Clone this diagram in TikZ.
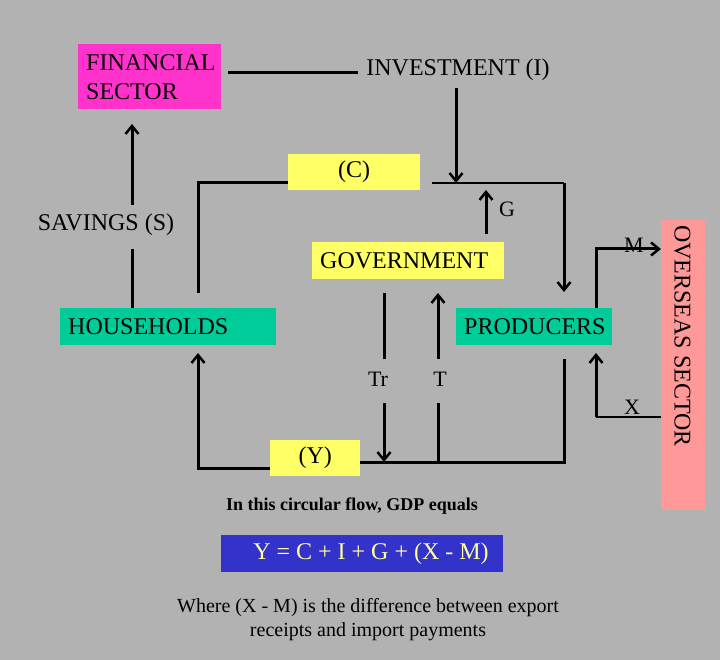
\documentclass[tikz,border=0pt]{standalone}
\usepackage{fontspec}
\setmainfont{Liberation Serif}
\usetikzlibrary{arrows.meta}
\definecolor{bggray}{RGB}{178,178,178}
\definecolor{finpink}{RGB}{255,51,204}
\definecolor{boxyellow}{RGB}{255,255,102}
\definecolor{boxgreen}{RGB}{0,204,153}
\definecolor{ospink}{RGB}{255,153,153}
\definecolor{eqblue}{RGB}{51,51,204}
\definecolor{eqtext}{RGB}{255,255,153}

\tikzset{
  sectorbox/.style={inner xsep=8pt, inner ysep=0pt, anchor=north west, align=left,
    font=\fontsize{24}{29}\selectfont},
  flowlabel/.style={inner sep=0pt, font=\fontsize{24}{28}\selectfont},
  smalllabel/.style={inner sep=0pt, font=\fontsize{22}{26}\selectfont},
  thickflow/.style={line width=3pt},
  thinflow/.style={line width=1.8pt},
  flowarrow/.style={line width=3pt, -{Straight Barb[length=8pt,width=13pt,line width=2.5pt]}}
}

\begin{document}
\begin{tikzpicture}[x=1pt,y=-1pt]
		% Fondo
		\fill[bggray] (0,0) rectangle (720,660);
		\useasboundingbox (0,0) rectangle (720,660);
		
		% Sectores
		\node[sectorbox, fill=finpink, minimum width=143pt, minimum height=65pt, text width=127pt] (fin) at (78,44) {FINANCIAL\\SECTOR};
		\node[sectorbox, fill=boxyellow, minimum width=192pt, minimum height=37pt, text width=176pt] (gov) at (312,242) {GOVERNMENT};
		\node[sectorbox, fill=boxgreen, minimum width=216pt, minimum height=37pt, text width=200pt] (hh) at (60,308) {HOUSEHOLDS};
		\node[sectorbox, fill=boxgreen, minimum width=156pt, minimum height=37pt, text width=140pt] (prod) at (456,308) {PRODUCERS};
		\node[sectorbox, fill=boxyellow, minimum width=132pt, minimum height=36pt, align=center, text width=116pt] (cons) at (288,154) {(C)};
		\node[sectorbox, fill=boxyellow, minimum width=90pt, minimum height=36pt, align=center, text width=74pt] (inc) at (270,440) {(Y)};
		\fill[ospink] (661,220) rectangle (705,510);
		\node[flowlabel, rotate=-90, anchor=south west] (os) at (674,225) {OVERSEAS SECTOR};
		
		% Etiquetas
		\node[flowlabel] (inv) at (458,70) {INVESTMENT (I)};
		\node[flowlabel] (sav) at (106,225) {SAVINGS (S)};
		\node[smalllabel] (glab) at (507,209) {G};
		\node[smalllabel] (mlab) at (634,245) {M};
		\node[smalllabel] (xlab) at (632,407) {X};
		\node[smalllabel] (trlab) at (378,379) {Tr};
		\node[smalllabel] (tlab) at (440,379) {T};
		
		% Puntos de los flujos
		\coordinate (finR) at (228,73);
		\coordinate (invL) at (358,73);
		\coordinate (invDown) at (456,88);
		\coordinate (invIn) at (456,183);
		\coordinate (cR) at (432,183);
		\coordinate (cTurn) at (564,183);
		\coordinate (prodIn) at (564,292);
		\coordinate (cTurnL) at (198,183);
		\coordinate (hhTop) at (198,293);
		\coordinate (gLow) at (486,234);
		\coordinate (gUp) at (486,190);
		\coordinate (savLow) at (132,205);
		\coordinate (finIn) at (132,124);
		\coordinate (savTop) at (132,249);
		\coordinate (mTurn) at (596,249);
		\coordinate (xTurn) at (596,417);
		\coordinate (prodLow) at (596,353);
		\coordinate (trTop) at (384,293);
		\coordinate (trMid) at (384,359);
		\coordinate (trLow) at (384,403);
		\coordinate (trEnd) at (384,462);
		\coordinate (tTop) at (438,293);
		\coordinate (tMid) at (438,359);
		\coordinate (tLow) at (438,403);
		\coordinate (tEnd) at (438,462);
		\coordinate (yTurnR) at (564,462);
		\coordinate (prodOut) at (564,359);
		\coordinate (yTurnL) at (198,468);
		\coordinate (hhLow) at (198,353);
		
		% Flujos
		\draw[thickflow] (finR) -- (invL);
		\draw[flowarrow] (invDown) -- (invIn);
		\draw[thinflow] (cR) -- (cTurn);
		\draw[flowarrow] (cTurn) -- (prodIn);
		\draw[thickflow] (cons.west |- cTurnL) -- (cTurnL) -- (hhTop);
		\draw[flowarrow] (gLow) -- (gUp);
		\draw[flowarrow] (savLow) -- (finIn);
		\draw[thickflow] (savTop) -- (hh.north -| savTop);
		\draw[thickflow, -{Straight Barb[length=8pt,width=13pt,line width=2.5pt]}] (prod.north -| mTurn) -- (mTurn) -- (661,249);
		\draw[thinflow] (661,417) -- (xTurn);
		\draw[flowarrow] (xTurn) -- (prodLow);
		\draw[thickflow] (trTop) -- (trMid);
		\draw[flowarrow] (trLow) -- (trEnd);
		\draw[thickflow] (tLow) -- (tEnd);
		\draw[flowarrow] (tMid) -- (tTop);
		\draw[thickflow] (inc.east |- yTurnR) -- (yTurnR) -- (prodOut);
		\draw[flowarrow] (inc.west |- yTurnL) -- (yTurnL) -- (hhLow);
		
		% Texto de abajo
		\node[font=\fontsize{18}{22}\selectfont\bfseries] (cap) at (352,506) {In this circular flow, GDP equals};
		\node[fill=eqblue, text=eqtext, minimum width=282pt, minimum height=37pt, inner sep=0pt, font=\fontsize{24}{28}\selectfont] (eq) at (362,553.5) {\hspace{18pt}Y = C + I + G + (X - M)};
		\node[align=center, font=\fontsize{20}{24}\selectfont] (note) at (368,620) {Where (X - M) is the difference between export\\receipts and import payments};
	\end{tikzpicture}
\end{document}
